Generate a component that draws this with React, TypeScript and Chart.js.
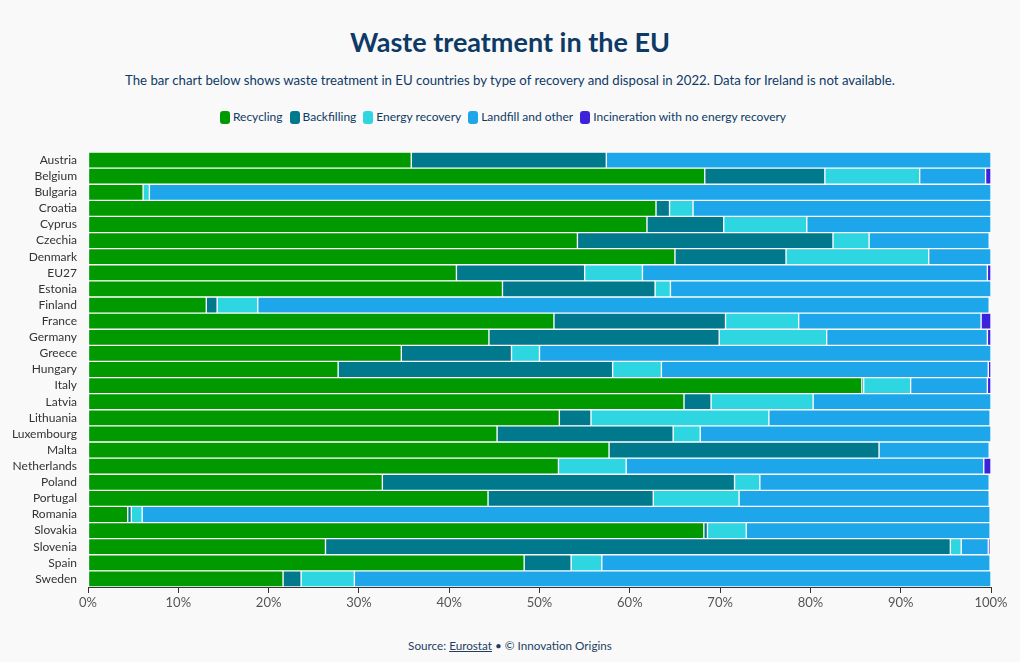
import React, { useEffect, useRef } from "react";
import { Chart, registerables } from "chart.js";

Chart.register(...registerables);

const countries = ["Austria","Belgium","Bulgaria","Croatia","Cyprus","Czechia","Denmark","EU27","Estonia","Finland","France","Germany","Greece","Hungary","Italy","Latvia","Lithuania","Luxembourg","Malta","Netherlands","Poland","Portugal","Romania","Slovakia","Slovenia","Spain","Sweden"];

const recycling = [35.8, 68.3, 6.1, 62.9, 61.9, 54.2, 65.0, 40.8, 45.9, 13.1, 51.6, 44.4, 34.7, 27.7, 85.7, 66.0, 52.2, 45.3, 57.7, 52.1, 32.6, 44.3, 4.4, 68.2, 26.3, 48.3, 21.6];
const backfilling = [21.6, 13.3, 0, 1.5, 8.5, 28.3, 12.3, 14.2, 16.9, 1.2, 19.0, 25.5, 12.2, 30.4, 0.2, 3.0, 3.5, 19.5, 29.9, 0, 39.0, 18.3, 0.4, 0.4, 69.2, 5.2, 2.0];
const energyRecovery = [0, 10.5, 0.7, 2.6, 9.2, 4.0, 15.8, 6.4, 1.7, 4.5, 8.1, 11.9, 3.1, 5.4, 5.2, 11.3, 19.7, 3.0, 0, 7.5, 2.8, 9.5, 1.2, 4.3, 1.2, 3.4, 5.9];
const landfill = [42.6, 7.3, 93.2, 33.0, 20.4, 13.3, 6.9, 38.2, 35.5, 81.0, 20.2, 17.8, 50.0, 36.2, 8.5, 19.7, 24.5, 32.2, 12.2, 39.6, 25.4, 27.7, 93.9, 27.0, 3.0, 43.0, 70.5];
const incineration = [0, 0.6, 0, 0, 0, 0, 0, 0.4, 0, 0, 1.1, 0.4, 0, 0.3, 0.4, 0, 0, 0, 0, 0.8, 0, 0, 0, 0, 0.2, 0, 0];

const seriesNames = ["Recycling", "Backfilling", "Energy recovery", "Landfill and other", "Incineration with no energy recovery"];
const seriesColors = ["#009a00", "#00798c", "#2ed6e2", "#1ea6ea", "#3d22dc"];
const seriesValues = [recycling, backfilling, energyRecovery, landfill, incineration];

const FONT = "Lato, 'Noto Sans', sans-serif";
const NAVY = "#0e3a66";

export default function App() {
  const ref = useRef<HTMLCanvasElement | null>(null);

  useEffect(() => {
    document.body.style.margin = "0";
    const canvas = ref.current;
    if (!canvas) return;
    const chart = new Chart(canvas, {
      type: "bar",
      data: {
        labels: countries,
        datasets: seriesNames.map((name, i) => ({
          label: name,
          data: seriesValues[i],
          backgroundColor: seriesColors[i],
          borderColor: "#ffffff",
          borderWidth: 1,
          borderSkipped: false,
          barPercentage: 1,
          categoryPercentage: 1,
        })),
      },
      options: {
        indexAxis: "y",
        responsive: false,
        animation: false,
        layout: { padding: { top: 12, right: 29, left: 0, bottom: 0 } },
        plugins: {
          legend: { display: false },
          tooltip: { enabled: false },
        },
        scales: {
          x: {
            stacked: true,
            min: 0,
            max: 100,
            afterFit: (s: any) => { s.height = 38; },
            ticks: {
              stepSize: 10,
              color: "#555555",
              font: { family: FONT, size: 13 },
              padding: 2,
              callback: (v: any) => v + "%",
            },
            grid: { display: true, drawOnChartArea: false, drawTicks: true, tickLength: 6, color: "#333333" },
            border: { display: true, color: "#333333", width: 1 },
          },
          y: {
            stacked: true,
            afterFit: (s: any) => { s.width = 88; },
            ticks: {
              color: "#333333",
              font: { family: FONT, size: 12 },
              padding: 3,
              autoSkip: false,
            },
            grid: { display: false, drawTicks: true, tickLength: 8 },
            border: { display: false },
          },
        },
      },
    });
    return () => chart.destroy();
  }, []);

  return (
    <div style={{ position: "relative", width: 1020, height: 662, background: "#f9f9f9", fontFamily: FONT, overflow: "hidden" }}>
      <div style={{ position: "absolute", top: 24, left: 0, width: 1020, textAlign: "center", fontSize: 27, fontWeight: 700, color: NAVY, lineHeight: "36px" }}>
        Waste treatment in the EU
      </div>
      <div style={{ position: "absolute", top: 71, left: 0, width: 1020, textAlign: "center", fontSize: 13.2, color: NAVY, lineHeight: "18px" }}>
        The bar chart below shows waste treatment in EU countries by type of recovery and disposal in 2022. Data for Ireland is not available.
      </div>
      <div style={{ position: "absolute", top: 109, left: -7, width: 1020, display: "flex", justifyContent: "center", alignItems: "center", fontSize: 12, color: NAVY, lineHeight: "16px" }}>
        {seriesNames.map((name, i) => (
          <div key={name} style={{ display: "flex", alignItems: "center", marginRight: i < seriesNames.length - 1 ? 7 : 0 }}>
            <span style={{ display: "inline-block", width: 10, height: 13, borderRadius: 3, background: seriesColors[i], marginRight: 3 }} />
            <span>{name}</span>
          </div>
        ))}
      </div>
      <canvas ref={ref} width={1020} height={485} style={{ position: "absolute", top: 140, left: 0, width: 1020, height: 485 }} />
      <div style={{ position: "absolute", top: 637, left: 0, width: 1020, textAlign: "center", fontSize: 11.7, color: "#1f3f63", lineHeight: "16px" }}>
        Source: <span style={{ textDecoration: "underline" }}>Eurostat</span> • © Innovation Origins
      </div>
    </div>
  );
}
